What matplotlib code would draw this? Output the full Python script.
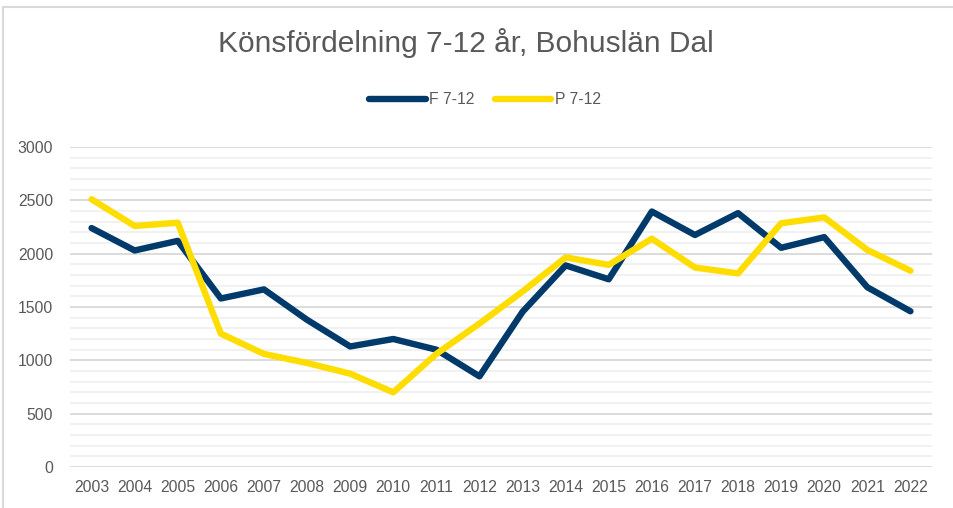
import numpy as np
import matplotlib.pyplot as plt
from matplotlib.lines import Line2D

plt.rcParams['font.family'] = ['Liberation Sans', 'DejaVu Sans']

# Dane
lata = ['2003', '2004', '2005', '2006', '2007', '2008', '2009', '2010', '2011', '2012',
        '2013', '2014', '2015', '2016', '2017', '2018', '2019', '2020', '2021', '2022']
f_7_12 = [2240, 2030, 2120, 1580, 1665, 1380, 1130, 1200, 1100, 850,
          1455, 1890, 1760, 2395, 2175, 2380, 2055, 2155, 1685, 1460]
p_7_12 = [2510, 2260, 2290, 1250, 1060, 975, 875, 700, 1060, 1345,
          1645, 1965, 1895, 2140, 1870, 1815, 2285, 2340, 2035, 1840]

szary = '#595959'
x = np.arange(len(lata))

fig = plt.figure(figsize=(9.54, 5.08), dpi=100)
ax = fig.add_axes([70 / 954, 1 - 467 / 508, 862 / 954, 320 / 508])

ax.plot(x, f_7_12, color='#003a6b', lw=4.6, solid_capstyle='round', solid_joinstyle='round', label='F 7-12', zorder=3)
ax.plot(x, p_7_12, color='#ffdd00', lw=4.6, solid_capstyle='round', solid_joinstyle='round', label='P 7-12', zorder=3)

ax.set_xlim(-0.5, len(lata) - 0.5)
ax.set_ylim(0, 3000)
ax.set_xticks(x)
ax.set_xticklabels(lata)
ax.set_yticks(np.arange(0, 3001, 500))
ax.set_yticks(np.arange(0, 3001, 100), minor=True)
ax.grid(axis='y', which='major', color='#d9d9d9', lw=1.3)
ax.grid(axis='y', which='minor', color='#f0f0f0', lw=1.3)
ax.set_axisbelow(True)
ax.tick_params(axis='both', which='both', length=0, labelsize=11.3, labelcolor=szary)
ax.tick_params(axis='y', pad=12)
ax.tick_params(axis='x', pad=9)
for s in ax.spines.values():
    s.set_visible(False)

fig.text(466 / 954, 1 - 43 / 508, 'Könsfördelning 7-12 år, Bohuslän Dal', ha='center', va='center',
         fontsize=21.5, color=szary)

leg = ax.legend(loc='center', bbox_to_anchor=(485 / 954, 1 - 100 / 508), bbox_transform=fig.transFigure,
                ncol=2, frameon=False, fontsize=11.3, handlelength=3.6, handletextpad=0.2,
                columnspacing=1.3)
for t in leg.get_texts():
    t.set_color(szary)

# ramka
fig.add_artist(Line2D([3.5 / 954, 3.5 / 954], [0, 1 - 7 / 508], color='#d9d9d9', lw=1.5))
fig.add_artist(Line2D([3.5 / 954, 1], [1 - 7 / 508, 1 - 7 / 508], color='#d9d9d9', lw=1.5))

fig.savefig('out.png', dpi=100)
